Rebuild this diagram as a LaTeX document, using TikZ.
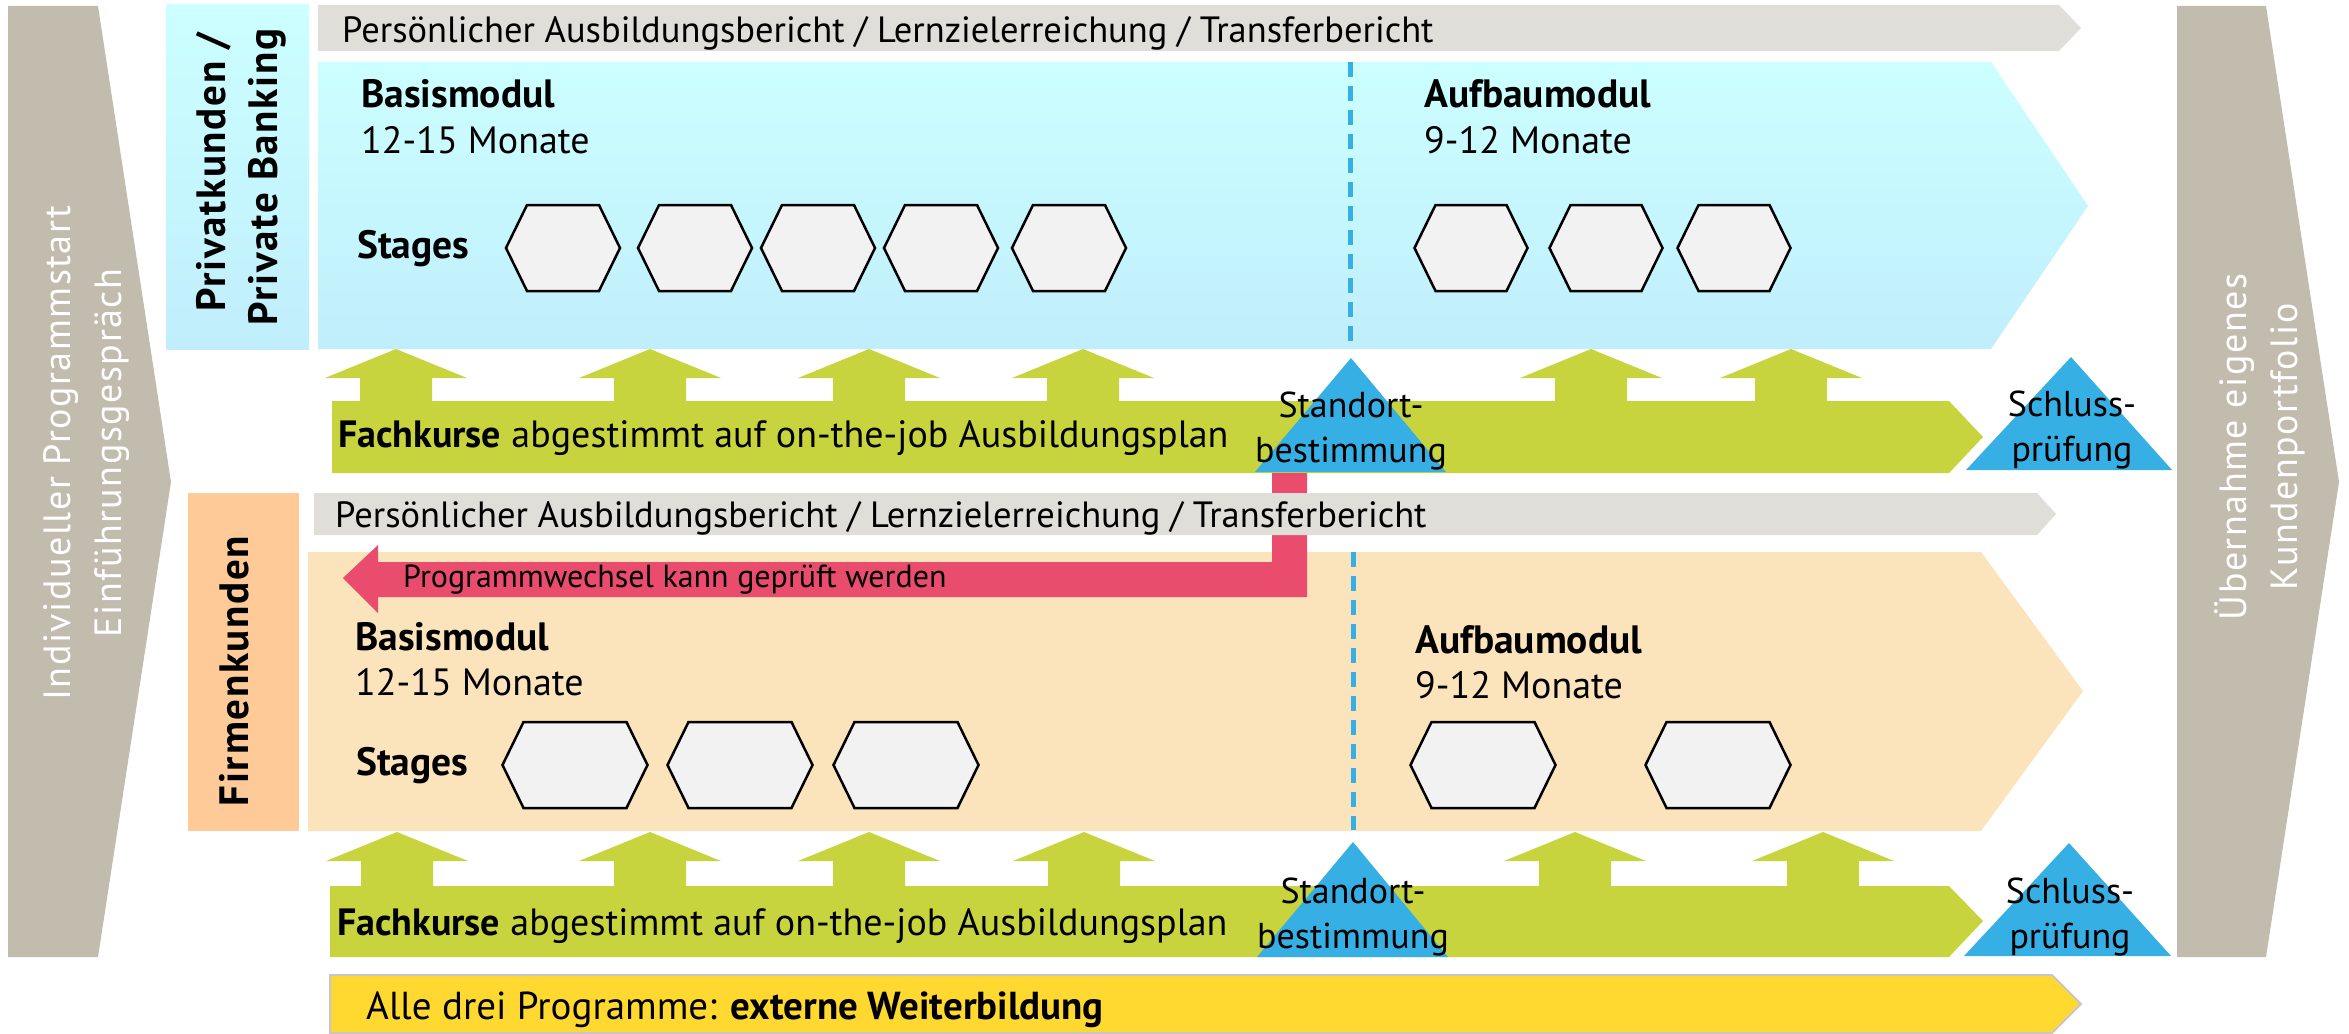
\documentclass[tikz,border=0pt]{standalone}
\usepackage{fontspec}
\setmainfont{PT Sans}
\newfontfamily\spacedfont[LetterSpace=4]{PT Sans}
\usetikzlibrary{positioning}

\definecolor{bandgrey}{RGB}{194,188,175}
\definecolor{bargrey}{RGB}{224,222,216}
\definecolor{pkTop}{RGB}{204,255,255}
\definecolor{pkBot}{RGB}{192,238,252}
\definecolor{fkLabel}{RGB}{254,203,152}
\definecolor{fkFill}{RGB}{251,227,187}
\definecolor{kursgreen}{RGB}{200,212,62}
\definecolor{checkblue}{RGB}{53,175,228}
\definecolor{switchred}{RGB}{234,76,110}
\definecolor{extyellow}{RGB}{255,217,47}
\definecolor{hexfill}{RGB}{242,242,242}

% stage hexagon: centre x, centre y, width
\newcommand{\stagehex}[3]{%
  \draw[stage] ({#1-#3/2},#2) -- ({#1-#3/2+21},{#2-43}) -- ({#1+#3/2-21},{#2-43})
    -- ({#1+#3/2},#2) -- ({#1+#3/2-21},{#2+43}) -- ({#1-#3/2+21},{#2+43}) -- cycle;}
% course arrow rising out of the green band: x, tip y
\newcommand{\kursarrow}[2]{%
  \fill[kursgreen] (#1,#2) -- ({#1+71},{#2+29}) -- ({#1+36},{#2+29}) -- ({#1+36},{#2+60})
    -- ({#1-36},{#2+60}) -- ({#1-36},{#2+29}) -- ({#1-71},{#2+29}) -- cycle;}
% bold headings a touch larger
\newcommand{\head}[1]{{\fontsize{39.5}{44}\selectfont\bfseries #1}}

\begin{document}
\begin{tikzpicture}[x=1pt,y=-1pt,line join=miter,
  stage/.style={draw=black,fill=hexfill,line width=2.5pt},
  dashline/.style={draw=checkblue,line width=5pt,dash pattern=on 15pt off 9pt},
  txt/.style={inner sep=0pt,anchor=base west,font=\fontsize{38}{44}\selectfont},
  bericht/.style={txt,font=\fontsize{36.5}{44}\selectfont},
  midtxt/.style={inner sep=0pt,anchor=base,font=\fontsize{36}{44}\selectfont},
  bandtxt/.style={inner sep=0pt,anchor=base,rotate=90,text=white,
    font=\spacedfont\fontsize{38}{44}\selectfont},
  grouptxt/.style={inner sep=0pt,anchor=base,rotate=90,
    font=\spacedfont\bfseries\fontsize{41}{48}\selectfont}]
\useasboundingbox (0,0) rectangle (2349,1033);

% start and end of the programme
\fill[bandgrey] (8,6) -- (98,6) -- (171,482) -- (98,957) -- (8,957) -- cycle;
\fill[bandgrey] (2177,6) -- (2266,6) -- (2339,482) -- (2266,957) -- (2177,957) -- cycle;

% Privatkunden / Private Banking
\shade[top color=pkTop,bottom color=pkBot] (166,5) rectangle (309,349);
\shade[top color=pkTop,bottom color=pkBot] (318,62) -- (1991,62) -- (2088,206) -- (1991,349) -- (318,349) -- cycle;
\fill[bargrey] (318,5) -- (2059,5) -- (2081,28) -- (2059,51) -- (318,51) -- cycle;
\draw[dashline] (1350,62) -- (1350,343);
\foreach \cx in {563,695,818,941,1069} {\stagehex{\cx}{248}{114}}
\foreach \cx in {1471,1606,1734} {\stagehex{\cx}{248}{113}}
\foreach \ax in {396,650,869,1083,1591,1791} {\kursarrow{\ax}{349}}
\fill[kursgreen] (332,401) -- (1949,401) -- (1983,437) -- (1949,473) -- (332,473) -- cycle;
\fill[checkblue] (1351,358) -- (1446,472) -- (1255,472) -- cycle;
\fill[checkblue] (2071,357) -- (2172,470) -- (1966,470) -- cycle;

% Firmenkunden
\fill[fkLabel] (188,493) rectangle (299,831);
\fill[fkFill] (308,552) -- (1981,552) -- (2083,691) -- (1981,831) -- (308,831) -- cycle;
\fill[switchred] (1307,473) -- (1307,597) -- (378,597) -- (378,613) -- (343,578)
  -- (378,545) -- (378,562) -- (1272,562) -- (1272,473) -- cycle;
\fill[bargrey] (314,493) -- (2037,493) -- (2056,514) -- (2037,535) -- (314,535) -- cycle;
\draw[dashline] (1353,552) -- (1353,830);
\foreach \cx in {575,740,906,1483,1718} {\stagehex{\cx}{765}{145}}
\foreach \ax in {397,650,869,1084,1575,1823} {\kursarrow{\ax}{832}}
\fill[kursgreen] (330,886) -- (1949,886) -- (1983,921) -- (1949,957) -- (330,957) -- cycle;
\fill[checkblue] (1353,842) -- (1448,957) -- (1257,957) -- cycle;
\fill[checkblue] (2069,843) -- (2171,956) -- (1964,956) -- cycle;

% external courses for all
\fill[extyellow,draw=black!22,line width=2pt] (330,975) -- (2052,975) -- (2081,1004) -- (2052,1033) -- (330,1033) -- cycle;

% labels
\node[bandtxt] (startA) at (70,453) {Individueller Programmstart};
\node[bandtxt] (startB) at (121,453) {Einführungsgespräch};
\node[bandtxt] (endA) at (2246,447) {Übernahme eigenes};
\node[bandtxt] (endB) at (2297,447) {Kundenportfolio};
\node[grouptxt] (pkNameA) at (225,172) {Privatkunden /};
\node[grouptxt] (pkNameB) at (277,177) {Private Banking};
\node[grouptxt] (fkName) at (248,671) {Firmenkunden};

\node[bericht] (pkBericht) at (342,43) {Persönlicher Ausbildungsbericht / Lernzielerreichung / Transferbericht};
\node[txt] (pkBasis) at (361,107) {\head{Basismodul}};
\node[txt] (pkBasisDauer) at (361,153) {12-15 Monate};
\node[txt] (pkStages) at (357,258) {\head{Stages}};
\node[txt] (pkAufbau) at (1424,107) {\head{Aufbaumodul}};
\node[txt] (pkAufbauDauer) at (1424,153) {9-12 Monate};
\node[txt] (pkKurse) at (338,447) {\textbf{Fachkurse} abgestimmt auf on-the-job Ausbildungsplan};
\node[midtxt] (pkStandortA) at (1351,417) {Standort-};
\node[midtxt] (pkStandortB) at (1351,462) {bestimmung};
\node[midtxt] (pkSchlussA) at (2072,416) {Schluss-};
\node[midtxt] (pkSchlussB) at (2072,461) {prüfung};

\node[bericht] (fkBericht) at (335,527) {Persönlicher Ausbildungsbericht / Lernzielerreichung / Transferbericht};
\node[txt,font=\fontsize{32}{38}\selectfont] (wechsel) at (403,587) {Programmwechsel kann geprüft werden};
\node[txt] (fkBasis) at (355,650) {\head{Basismodul}};
\node[txt] (fkBasisDauer) at (355,695) {12-15 Monate};
\node[txt] (fkStages) at (356,775) {\head{Stages}};
\node[txt] (fkAufbau) at (1415,653) {\head{Aufbaumodul}};
\node[txt] (fkAufbauDauer) at (1415,698) {9-12 Monate};
\node[txt] (fkKurse) at (337,935) {\textbf{Fachkurse} abgestimmt auf on-the-job Ausbildungsplan};
\node[midtxt] (fkStandortA) at (1353,903) {Standort-};
\node[midtxt] (fkStandortB) at (1353,948) {bestimmung};
\node[midtxt] (fkSchlussA) at (2070,903) {Schluss-};
\node[midtxt] (fkSchlussB) at (2070,948) {prüfung};

\node[txt,font=\fontsize{39}{44}\selectfont] (extern) at (366,1019) {Alle drei Programme: \textbf{externe Weiterbildung}};
\end{tikzpicture}
\end{document}
